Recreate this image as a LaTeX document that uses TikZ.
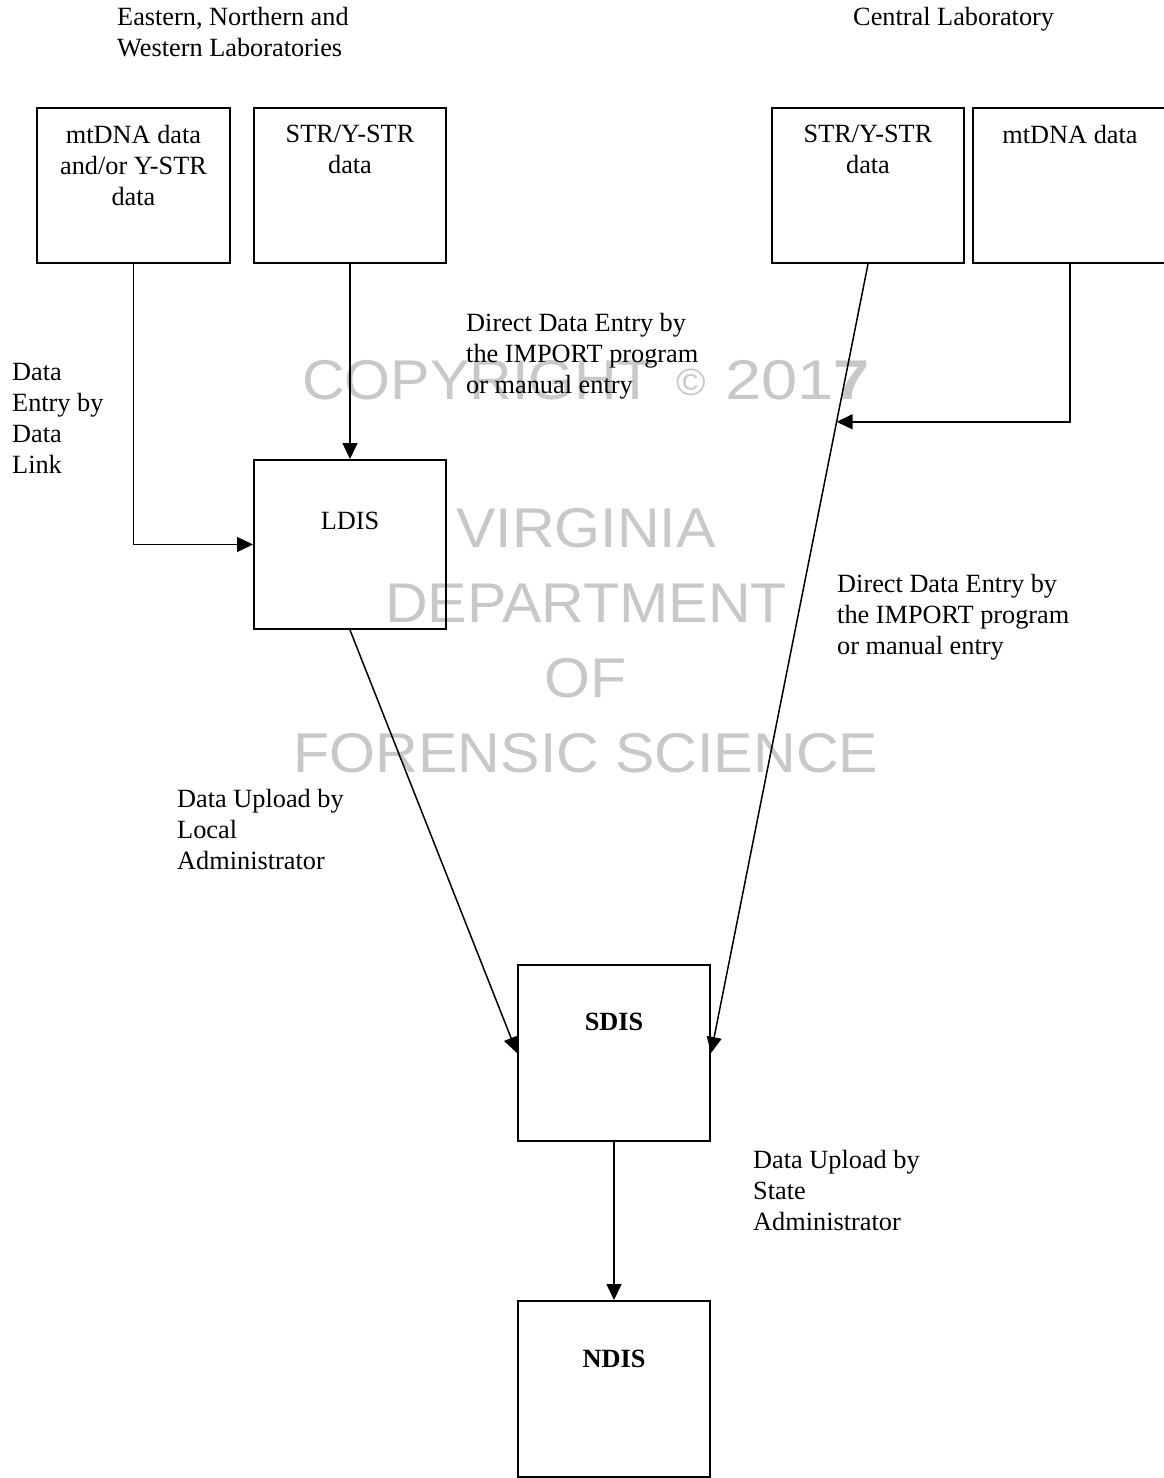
\documentclass[tikz,border=0pt]{standalone}
\usepackage{fontspec}
\setmainfont{Liberation Serif}
\newfontfamily\wmfont{Liberation Sans}
\usetikzlibrary{arrows.meta,calc}
\definecolor{wmgray}{RGB}{200,200,200}
\begin{document}
\begin{tikzpicture}[x=1pt,y=-1pt,
  boxnode/.style={draw,line width=2pt,inner sep=0pt,minimum width=192pt},
  lbl/.style={font=\fontsize{26.3}{31}\selectfont,inner sep=0pt,align=left},
  clbl/.style={font=\fontsize{26.3}{31}\selectfont,inner sep=0pt,align=center},
  blbl/.style={font=\fontsize{26.3}{31}\selectfont\bfseries,inner sep=0pt},
  wm/.style={font=\wmfont\fontsize{56}{60}\selectfont,text=wmgray,inner sep=0pt,anchor=base},
  conn/.style={line width=1.5pt,-{Triangle[length=16pt,width=15pt]}}]
\useasboundingbox (0,0) rectangle (1164,1478);
\clip (0,0) rectangle (1164,1478);
\fill[white] (0,0) rectangle (1164,1478);
% watermark
\node[wm] (w1) at (586,399) {\scalebox{1.055}[1]{COPYRIGHT\hspace{22pt}{\fontsize{38}{40}\selectfont\raisebox{4pt}{©}}\hspace{18pt}\scalebox{1.1}[1]{201\textbf{7}}}};
\node[wm] (w2) at (586,547) {\scalebox{1.055}[1]{VIRGINIA}};
\node[wm] (w3) at (586,622) {\scalebox{1.055}[1]{DEPARTMENT}};
\node[wm] (w4) at (586,697) {\scalebox{1.055}[1]{OF}};
\node[wm] (w5) at (586,772) {\scalebox{1.055}[1]{FORENSIC SCIENCE}};
% titles
\node[lbl,anchor=north west] (t1) at (117,7) {Eastern, Northern and\\Western Laboratories};
\node[lbl,anchor=north west] (t2) at (853,7) {Central Laboratory};
% boxes
\node[boxnode,minimum width=193pt,minimum height=155pt] (A) at (133.5,185.5) {};
\node[boxnode,minimum height=155pt] (B) at (350,185.5) {};
\node[boxnode,minimum height=155pt] (C) at (868,185.5) {};
\node[boxnode,minimum width=194pt,minimum height=155pt] (D) at (1070,185.5) {};
\node[boxnode,minimum height=169pt] (L) at (350,544.5) {};
\node[boxnode,minimum height=176pt] (S) at (614,1053) {};
\node[boxnode,minimum height=176pt] (N) at (614,1389) {};
% box texts
\node[clbl,anchor=north] (Atx) at (133.5,125) {mtDNA data\\and/or Y-STR\\data};
\node[clbl,anchor=north] (Btx) at (350,125) {STR/Y-STR\\data};
\node[clbl,anchor=north] (Ctx) at (868,125) {STR/Y-STR\\data};
\node[clbl,anchor=north] (Dtx) at (1070,125) {mtDNA data};
\node[clbl,anchor=north] (Ltx) at (350,512) {LDIS};
\node[blbl,anchor=north] (Stx) at (614,1013) {SDIS};
\node[blbl,anchor=north] (Ntx) at (614,1350) {NDIS};
% labels
\node[lbl,anchor=north west] (l1) at (12,363) {Data\\Entry by\\Data\\Link};
\node[lbl,anchor=north west] (l2) at (466,313) {Direct Data Entry by\\the IMPORT program\\or manual entry};
\node[lbl,anchor=north west] (l3) at (837,574) {Direct Data Entry by\\the IMPORT program\\or manual entry};
\node[lbl,anchor=north west] (l4) at (177,789) {Data Upload by\\Local\\Administrator};
\node[lbl,anchor=north west] (l5) at (753,1150) {Data Upload by\\State\\Administrator};
% connectors
\coordinate (J) at ($(C.south)!0.2!(S.east)$);
\draw[conn] (A.south) |- (L.west);
\draw[conn] (B.south) -- (L.north);
\draw[conn] (C.south) -- (S.east);
\draw[conn] (D.south) |- (J);
\draw[conn] (L.south) -- (S.west);
\draw[conn] (S.south) -- (N.north);
\end{tikzpicture}
\end{document}
